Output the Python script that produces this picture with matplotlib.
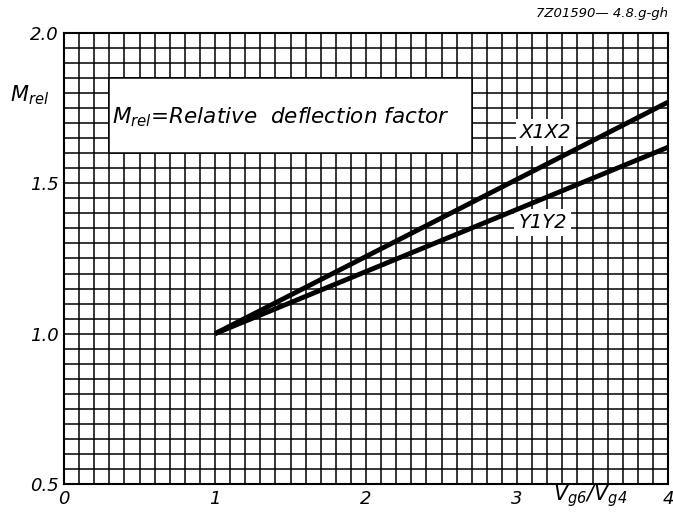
import matplotlib
matplotlib.use("Agg")
import matplotlib.pyplot as plt
import numpy as np
from matplotlib.patches import Rectangle

plt.rcParams['mathtext.fontset'] = 'custom'
plt.rcParams['mathtext.it'] = 'DejaVu Sans:italic'
plt.rcParams['mathtext.rm'] = 'DejaVu Sans:italic'
plt.rcParams['mathtext.default'] = 'it'

# data
series_names = ["X1X2", "Y1Y2"]
x_vals = [1.0, 4.0]
x1x2_vals = [1.0, 1.77]
y1y2_vals = [1.0, 1.62]
x_ticks = [0, 1, 2, 3, 4]
x_tick_labels = ["0", "1", "2", "3", "4"]
y_ticks = [0.5, 1.0, 1.5, 2.0]
y_tick_labels = ["0.5", "1.0", "1.5", "2.0"]

fig = plt.figure(figsize=(6.73, 5.12), dpi=100)
ax = fig.add_axes([64/673, 1-484/512, (668-64)/673, (484-33)/512])
ax.set_xlim(0, 4)
ax.set_ylim(0.5, 2.0)

# grid
for gx in np.arange(0, 4.0001, 0.1):
    ax.axvline(gx, color='black', lw=1.1, zorder=1)
for gy in np.arange(0.5, 2.0001, 0.05):
    ax.axhline(gy, color='black', lw=1.1, zorder=1)

for s in ax.spines.values():
    s.set_linewidth(1.5)

ax.set_xticks(x_ticks)
ax.set_xticklabels(x_tick_labels, fontstyle='italic', fontsize=13)
ax.set_yticks(y_ticks)
ax.set_yticklabels(y_tick_labels, fontstyle='italic', fontsize=13)
ax.tick_params(length=0, pad=4)

# text box
ax.add_patch(Rectangle((0.3, 1.6), 2.4, 0.25, facecolor='white', edgecolor='black',
                       lw=1.1, zorder=2))
ax.text(0.32, 1.72, r"$M_{rel}$=Relative  deflection factor", fontstyle='italic',
        fontsize=15.5, va='center', ha='left', zorder=3)

ax.plot(x_vals, x1x2_vals, color='black', lw=3.5, zorder=4, solid_capstyle='butt')
ax.plot(x_vals, y1y2_vals, color='black', lw=3.5, zorder=4, solid_capstyle='butt')

ax.text(3.19, 1.67, series_names[0], fontstyle='italic', fontsize=14, ha='center', va='center',
        zorder=3, bbox=dict(facecolor='white', edgecolor='none', pad=3))
ax.text(3.17, 1.37, series_names[1], fontstyle='italic', fontsize=14, ha='center', va='center',
        zorder=3, bbox=dict(facecolor='white', edgecolor='none', pad=3))

fig.text(30/673, 1-95/512, r"$M_{rel}$", fontsize=15, ha='center', va='center')
fig.text(590/673, 1-496/512, r"$V_{g6}/V_{g4}$", fontsize=15, ha='center', va='center')
fig.text(668/673, 1-14/512, "7Z01590— 4.8.g-gh", fontstyle='italic', fontsize=9.5,
         ha='right', va='center')

fig.savefig("out.png", dpi=100)
